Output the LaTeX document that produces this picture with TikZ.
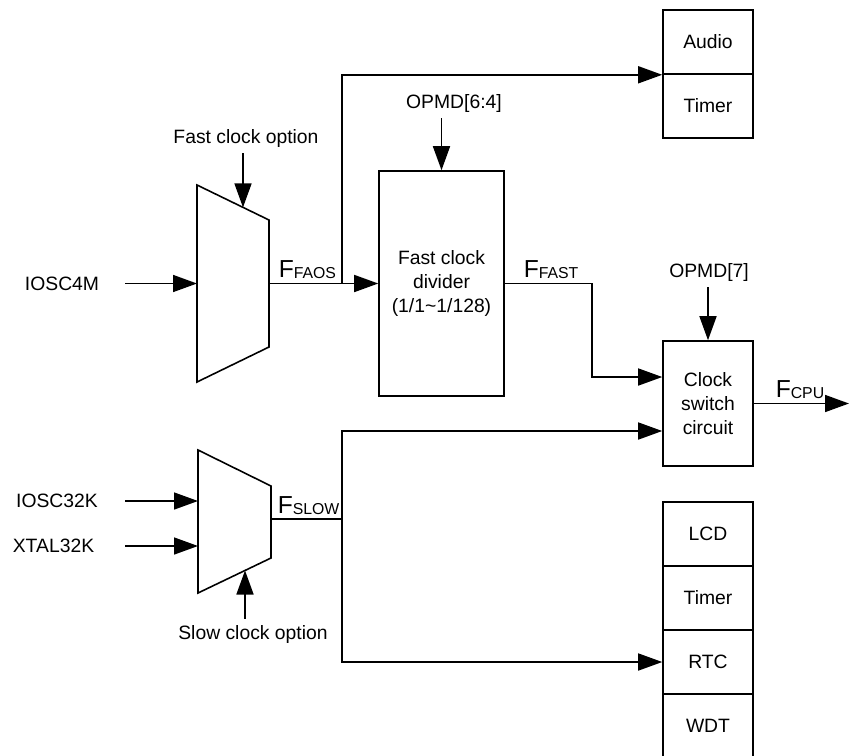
\documentclass[tikz,border=0pt]{standalone}
\usepackage{fontspec}
\setmainfont{Liberation Sans}
\usetikzlibrary{arrows.meta}
\newcommand{\signame}[1]{{\fontsize{14}{14}\selectfont F}\raisebox{-1pt}{\fontsize{9}{9}\selectfont #1}}

\begin{document}
\begin{tikzpicture}[x=0.02cm, y=-0.02cm, line width=0.9pt,
        font=\fontsize{11}{13.6}\selectfont,
        blk/.style = {draw, inner sep=0pt, align=center, minimum width=1.8cm, minimum height=1.28cm},
        lbl/.style = {inner sep=3pt},
        sname/.style = {anchor=base west, inner sep=0pt},
        sig/.style = {-{Triangle[length=4.8mm, width=3.4mm]}}
    ]
        \useasboundingbox (0,0) rectangle (849,755);

        \node[blk] (audio) at (708,42) {Audio};
        \node[blk] (atimer) at (708,106) {Timer};
        \node[blk, minimum width=2.5cm, minimum height=4.5cm] (divider) at (441.5,283.5) {Fast clock\\divider\\(1/1\textasciitilde1/128)};
        \node[blk, minimum height=2.5cm] (switch) at (708,403.5) {Clock\\switch\\circuit};
        \node[blk] (lcd) at (708,534) {LCD};
        \node[blk] (stimer) at (708,598) {Timer};
        \node[blk] (rtc) at (708,662) {RTC};
        \node[blk] (wdt) at (708,726) {WDT};

        \draw (197,185) -- (269,220) -- (269,347) -- (197,382) -- cycle;
        \draw (198,450) -- (271,486) -- (271,558) -- (198,593) -- cycle;
        \coordinate (fin) at (197,283.5);
        \coordinate (fout) at (269,283.5);
        \coordinate (fsel) at (243,207.4);
        \coordinate (sin1) at (198,501);
        \coordinate (sin2) at (198,546);
        \coordinate (sout) at (271,519);
        \coordinate (ssel) at (245,570.5);
        \coordinate (instart) at (125,0);
        \coordinate (fbr) at (342,283.5);
        \coordinate (sbr) at (342,519);
        \coordinate (fbend) at (592,0);
        \coordinate (cpuend) at (849,0);

        \node[lbl] (iosc4m) at (62,283.5) {IOSC4M};
        \node[lbl] (iosc32k) at (57,501) {IOSC32K};
        \node[lbl] (xtal32k) at (53.5,546) {XTAL32K};
        \node[lbl] (fastopt) at (246,138) {Fast clock option};
        \node[lbl] (slowopt) at (253,634) {Slow clock option};
        \node[lbl] (opmd64) at (454,103) {OPMD[6:4]};
        \node[lbl] (opmd7) at (709,272) {OPMD[7]};
        \node[sname] (faos) at (278,277) {\signame{FAOS}};
        \node[sname] (ffast) at (523,277) {\signame{FAST}};
        \node[sname] (fslow) at (277,513) {\signame{SLOW}};
        \node[sname] (fcpu) at (775,397) {\signame{CPU}};

        \draw[sig] (instart |- fin) -- (fin);
        \draw[sig] (instart |- sin1) -- (sin1);
        \draw[sig] (instart |- sin2) -- (sin2);
        \draw[sig] (fastopt.south -| fsel) -- (fsel);
        \draw[sig] (slowopt.north -| ssel) -- (ssel);
        \draw[sig] (opmd64.south -| divider.north) -- (divider.north);
        \draw[sig] (opmd7.south -| switch.north) -- (switch.north);
        \draw[sig] (fout) -- (divider.west);
        \draw[sig] (fbr) |- (audio.south west);
        \draw[sig] (divider.east) -- (fbend |- divider.east) |- ([yshift=0.53cm]switch.west);
        \draw (sout) -- (sbr);
        \draw[sig] (sbr) |- ([yshift=-0.55cm]switch.west);
        \draw[sig] (sbr) |- (rtc.west);
        \draw[sig] (switch.east) -- (switch.east -| cpuend);
    \end{tikzpicture}
\end{document}
